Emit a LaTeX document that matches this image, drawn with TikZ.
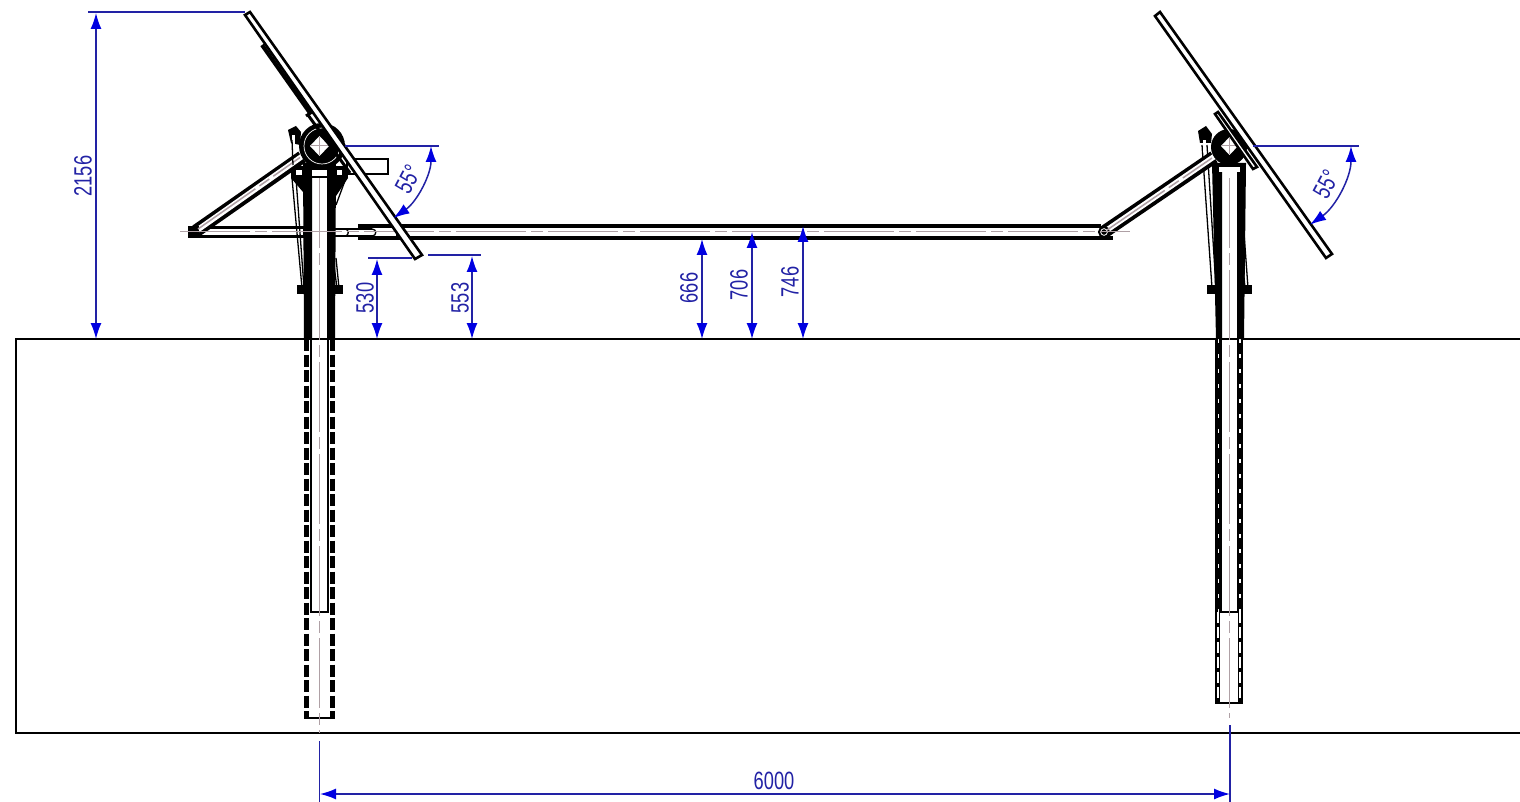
\documentclass[tikz,border=0pt]{standalone}
\usepackage{fontspec}
\usetikzlibrary{arrows.meta}
\setmainfont{Liberation Sans}[Kerning=Off]
\definecolor{dimblue}{RGB}{34,34,165}
\definecolor{tipblue}{RGB}{0,0,225}
\definecolor{axisgrey}{RGB}{175,160,165}
\newcommand{\dimtext}[1]{\scalebox{.73}[1]{\fontsize{25}{25}\selectfont #1}}
\tikzset{
  dimline/.style={draw=dimblue, line width=1.5pt},
  dimarrow/.style={dimline, {Latex[length=16pt,width=11pt,color=tipblue]}-{Latex[length=16pt,width=11pt,color=tipblue]}},
  dimlabel/.style={text=dimblue, inner sep=0pt},
  steel/.style={draw=black, line width=2.6pt, fill=white},
  pipe/.style={fill=black, draw=none},
  hole/.style={fill=white, draw=none},
  thinline/.style={draw=black, line width=1.3pt},
  axisline/.style={draw=axisgrey, line width=1.5pt, dash pattern=on 70pt off 5pt on 12pt off 5pt},
  crossline/.style={draw=axisgrey, line width=1pt},
  dashwall/.style={draw=black, line width=5pt, dash pattern=on 12pt off 3.5pt},
  gaps/.style={draw=white, line width=1.3pt, dash pattern=on 11pt off 4pt},
  ticks/.style={draw=white, line width=1.3pt, dash pattern=on 4pt off 11pt},
}
\begin{document}
\begin{tikzpicture}[x=1pt, y=-1pt]
    \useasboundingbox (0,0) rectangle (1520,802);

    % Ground block
    \draw[black, line width=2.2pt] (1520,339) -- (16,339) -- (16,733) -- (1520,733);

    % Left foundation, drawn dashed below the ground line
    \draw[dashwall] (306.5,339) -- (306.5,718);
    \draw[dashwall] (332.5,339) -- (332.5,718);
    \draw[black, line width=1.8pt] (304,718) -- (335,718);
    \draw[black, line width=1.8pt] (311,339) -- (311,612) -- (328,612) -- (328,339);

    % Right foundation
    \draw[pipe] (1215,339) rectangle (1222,612);
    \draw[pipe] (1237,339) rectangle (1243,612);
    \draw[ticks] (1218.5,339) -- (1218.5,612);
    \draw[ticks] (1240,339) -- (1240,612);
    \draw[pipe] (1215,612) rectangle (1220,703);
    \draw[pipe] (1238,612) rectangle (1243,703);
    \draw[gaps] (1218,612) -- (1218,703);
    \draw[gaps] (1240,612) -- (1240,703);
    \draw[black, line width=1.8pt] (1215,703) -- (1243,703);
    \draw[black, line width=1.8pt] (1220,612) -- (1238,612);

    % Left post above ground
    \draw[pipe] (303,163) -- (312,163) -- (312,339) -- (304,339) -- cycle;
    \draw[pipe] (327,163) -- (336,163) -- (335,339) -- (327,339) -- cycle;
    \draw[pipe] (291,166) rectangle (348,178);
    \draw[pipe] (291,178) -- (303,178) -- (303,192) -- cycle;
    \draw[pipe] (348,178) -- (336,178) -- (336,196) -- cycle;
    \draw[hole] (312,170) rectangle (327,176);
    \draw[hole] (296,170) rectangle (302,175);
    \draw[hole] (337,170) rectangle (342,175);

    % Right post above ground
    \draw[pipe] (1212,163) -- (1222,163) -- (1222,339) -- (1216,339) -- cycle;
    \draw[pipe] (1237,163) -- (1246,163) -- (1244,339) -- (1237,339) -- cycle;
    \draw[pipe] (1212,163) rectangle (1246,168);
    \draw[hole] (1219,167) rectangle (1240,172);

    % Left actuator
    \draw[thinline] (292,178) -- (302,288);
    \draw[thinline] (296,178) -- (304,288);
    \draw[thinline] (346,178) -- (336,205);
    \draw[thinline] (333,258) -- (337,288);
    \draw[thinline] (336,258) -- (339,288);
    \draw[pipe] (297,285) rectangle (304,294);
    \draw[pipe] (333,285) rectangle (343,294);

    % Right actuator
    \draw[thinline] (1202,145) -- (1212,288);
    \draw[thinline] (1207,145) -- (1216,288);
    \draw[thinline] (1240,233) -- (1245,288);
    \draw[thinline] (1244,233) -- (1248,288);
    \draw[pipe] (1207,285) rectangle (1216,294);
    \draw[pipe] (1242,285) rectangle (1252,294);

    % Long horizontal tube
    \draw[pipe] (358,224) rectangle (1101,228);
    \draw[pipe] (358,236) rectangle (1113,240);
    \draw[thinline] (397,228) -- (397,236);

    % Sliding tube inside the sleeve
    \draw[thinline] (335,229) -- (372,229);
    \draw[thinline] (335,236) -- (372,236);
    \draw[thinline] (372,229) .. controls (377,229) and (377,236) .. (372,236);
    \draw[thinline] (346,229) .. controls (349,231) and (349,234) .. (346,236);

    % Left tie between foot and post
    \draw[pipe] (193,226) rectangle (304,229);
    \draw[pipe] (193,235) rectangle (304,238);
    \draw[thinline] (304,226) -- (304,238);

    % Left strut
    \draw[black, line width=13pt] (196,231) -- (302,157);
    \draw[white, line width=5.5pt] (196,231) -- (304,155);
    \draw[pipe] (188,226) rectangle (199,238);

    % Right strut
    \draw[black, line width=13pt] (1104,232) -- (1214,157);
    \draw[white, line width=5.5pt] (1104,232) -- (1215,156);
    \draw[black, line width=2pt, fill=white] (1104,232) circle (5);
    \draw[fill=black] (1104,232) circle (2.5);

    % Center lines
    \draw[axisline] (180,231.5) -- (1130,231.5);
    \draw[axisline] (319.5,178) -- (319.5,733);
    \draw[axisline] (1229.5,178) -- (1229.5,718);
    \draw[axisline] (198,229) -- (300,157.5);
    \draw[axisline] (1107,230) -- (1212,158);

    % Left head
    \draw[steel] (347,159) rectangle (388,174);
    \draw[pipe] (322,146) circle (23);
    \draw[white, line width=.7pt] (322,146) circle (18);
    \draw[pipe] (288,130) -- (296,126) -- (301,132) -- (300,145) -- (291,143) -- cycle;
    \draw[hole] (292,135) rectangle (295,146);
    \draw[thinline] (292,140) -- (293,165);
    \draw[hole] (319.5,136) -- (329,146) -- (319.5,156) -- (310,146) -- cycle;
    \draw[crossline] (311,146) -- (328,146);
    \draw[crossline] (319.5,137) -- (319.5,155);
    \draw[black, line width=4pt] (262,45) -- (310,113);

    % Left rail and panel
    \draw[black, line width=3pt] (308,115) -- (350,173);
    \draw[black, line width=3pt] (306,116) -- (312,112);
    \draw[steel] (245,15) -- (250,12) -- (422,255) -- (415,259) -- cycle;

    % Right head
    \draw[pipe] (1229,147) circle (18);
    \draw[pipe] (1198,131) -- (1206,126) -- (1212,134) -- (1211,143) -- (1200,143) -- cycle;
    \draw[hole] (1203,140) rectangle (1206,152);
    \draw[hole] (1229.5,137) -- (1238,146) -- (1229.5,155) -- (1221,146) -- cycle;
    \draw[crossline] (1222,146) -- (1237,146);
    \draw[crossline] (1229.5,138) -- (1229.5,154);

    % Right rail and panel
    \draw[steel] (1215,114) -- (1218,112) -- (1257,167) -- (1253,169) -- cycle;
    \draw[steel] (1155,16) -- (1160,12) -- (1332,254) -- (1326,258) -- cycle;

    % Dimension extension lines
    \draw[dimline] (88,12) -- (245,12);
    \draw[dimline] (368,258) -- (412,258);
    \draw[dimline] (428,255) -- (481,255);
    \draw[dimline] (345,146) -- (439,146);
    \draw[dimline] (1253,146) -- (1359,146);
    \draw[dimline] (319.5,741) -- (319.5,802);
    \draw[dimline] (1230,725) -- (1230,802);

    % Dimension arrows
    \draw[dimarrow] (96,13) -- (96,339);
    \draw[dimarrow] (377,259) -- (377,339);
    \draw[dimarrow] (472,256) -- (472,339);
    \draw[dimarrow] (702,239) -- (702,339);
    \draw[dimarrow] (752,232) -- (752,339);
    \draw[dimarrow] (803,226) -- (803,339);
    \draw[dimarrow] (320,794) -- (1230,794);
    \draw[dimarrow] (431,146) arc[start angle=0, end angle=55, radius=88];
    \draw[dimarrow] (1351,146) arc[start angle=0, end angle=55, radius=96];

    % Dimension labels
    \node[dimlabel, rotate=90] (dimtotal) at (83,176) {\dimtext{2156}};
    \node[dimlabel, rotate=90] (dimedgea) at (365,298) {\dimtext{530}};
    \node[dimlabel, rotate=90] (dimedgeb) at (460,298) {\dimtext{553}};
    \node[dimlabel, rotate=90] (dimtubea) at (689,288) {\dimtext{666}};
    \node[dimlabel, rotate=90] (dimtubeb) at (739,285) {\dimtext{706}};
    \node[dimlabel, rotate=90] (dimtubec) at (790,282) {\dimtext{746}};
    \node[dimlabel, rotate=62] (angleleft) at (408,179) {\dimtext{55°}};
    \node[dimlabel, rotate=62] (angleright) at (1326,184) {\dimtext{55°}};
    \node[dimlabel] (dimspan) at (774,781) {\dimtext{6000}};
\end{tikzpicture}
\end{document}
